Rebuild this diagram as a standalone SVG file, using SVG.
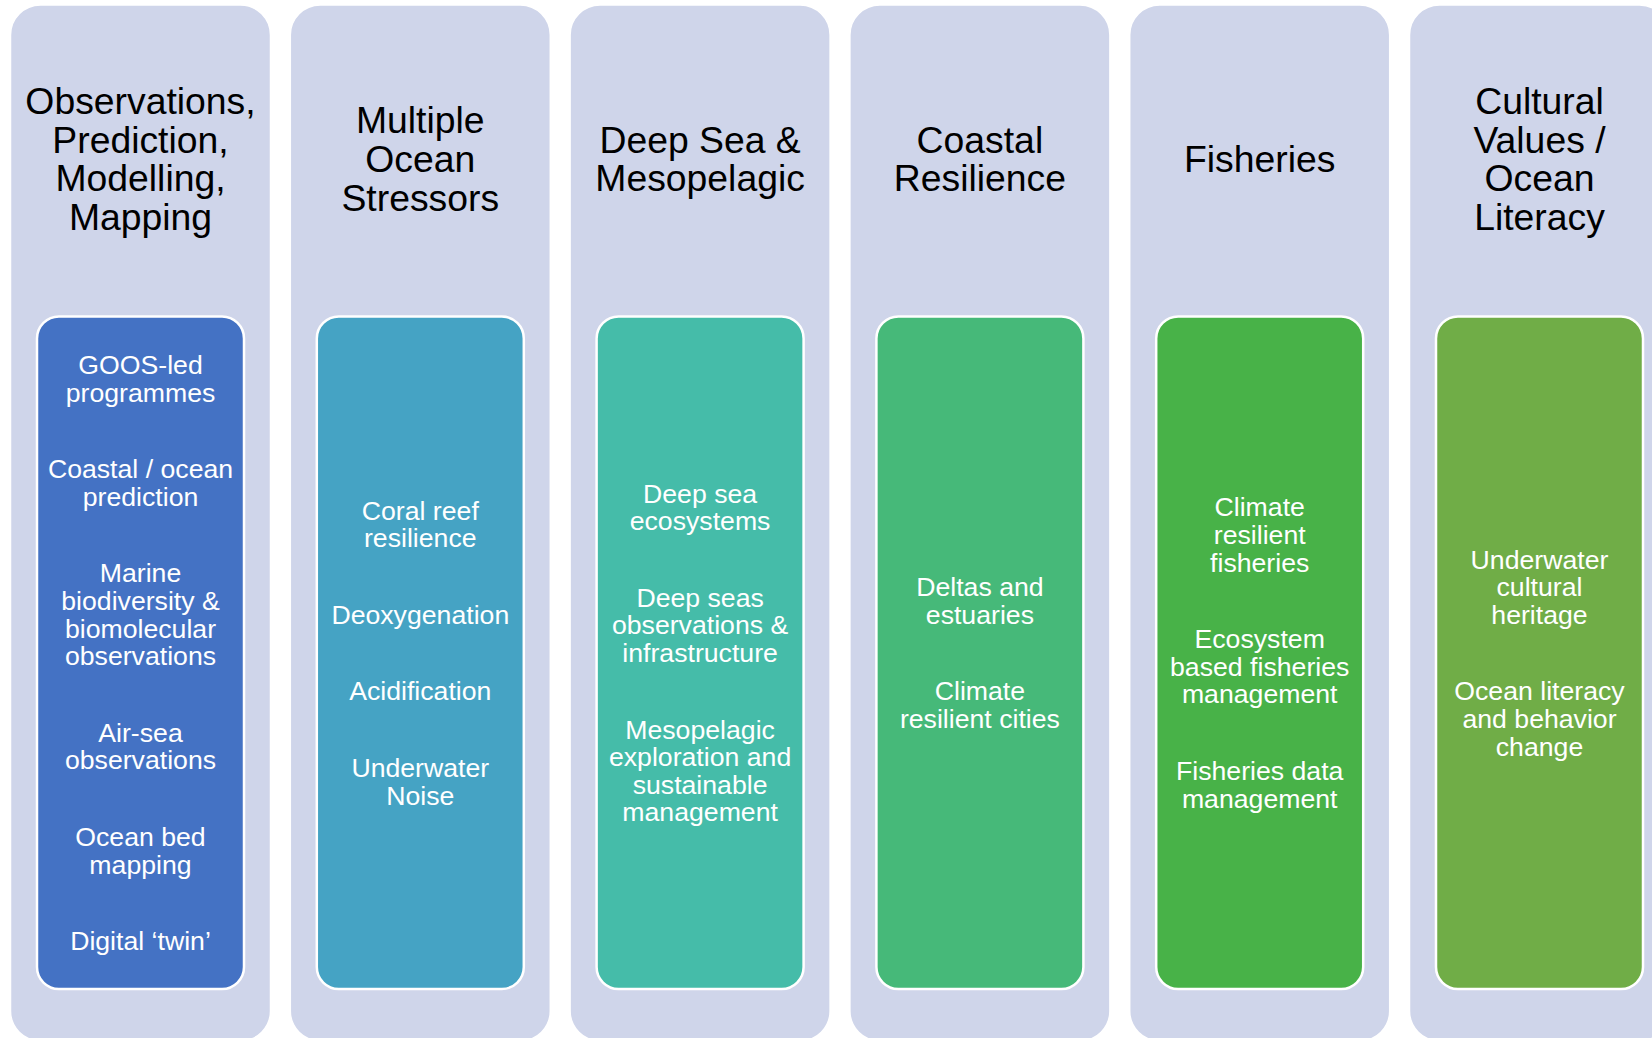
<svg xmlns="http://www.w3.org/2000/svg" width="1652" height="1038" viewBox="0 0 1652 1038">
<style>
.outer{fill:#CFD5EA;stroke:#FFFFFF;stroke-width:1.5}
.inner{stroke:#FFFFFF;stroke-width:2.5}
.title{font-family:"Liberation Sans",Arial,sans-serif;font-size:37.33px;fill:#000000;text-anchor:middle}
.item{font-family:"Liberation Sans",Arial,sans-serif;font-size:26.67px;fill:#FFFFFF;text-anchor:middle}
</style>
<rect x="0" y="0" width="1652" height="1038" fill="#FFFFFF"/>
<g id="connectors"></g>

<g id="col1">
<rect class="outer" x="10.5" y="5" width="260" height="1036" rx="30"/>
<text class="title" x="140.5"><tspan x="140.5" y="113.8">Observations,</tspan><tspan x="140.5" y="152.6">Prediction,</tspan><tspan x="140.5" y="191.4">Modelling,</tspan><tspan x="140.5" y="230.2">Mapping</tspan></text>
<rect class="inner" x="37" y="316.5" width="207" height="672.5" rx="22" fill="#4472C4"/>
<text class="item" x="140.5"><tspan x="140.5" y="373.9">GOOS-led</tspan><tspan x="140.5" y="401.5">programmes</tspan><tspan x="140.5" y="478.1">Coastal / ocean</tspan><tspan x="140.5" y="505.7">prediction</tspan><tspan x="140.5" y="582.3">Marine</tspan><tspan x="140.5" y="609.9">biodiversity &amp;</tspan><tspan x="140.5" y="637.5">biomolecular</tspan><tspan x="140.5" y="665.1">observations</tspan><tspan x="140.5" y="741.7">Air-sea</tspan><tspan x="140.5" y="769.3">observations</tspan><tspan x="140.5" y="845.9">Ocean bed</tspan><tspan x="140.5" y="873.5">mapping</tspan><tspan x="140.5" y="950.1">Digital ‘twin’</tspan></text>
</g>

<g id="col2">
<rect class="outer" x="290.3" y="5" width="260" height="1036" rx="30"/>
<text class="title" x="420.3"><tspan x="420.3" y="133.2">Multiple</tspan><tspan x="420.3" y="172">Ocean</tspan><tspan x="420.3" y="210.8">Stressors</tspan></text>
<rect class="inner" x="316.8" y="316.5" width="207" height="672.5" rx="22" fill="#45A3C4"/>
<text class="item" x="420.3"><tspan x="420.3" y="519.5">Coral reef</tspan><tspan x="420.3" y="547.1">resilience</tspan><tspan x="420.3" y="623.7">Deoxygenation</tspan><tspan x="420.3" y="700.3">Acidification</tspan><tspan x="420.3" y="776.9">Underwater</tspan><tspan x="420.3" y="804.5">Noise</tspan></text>
</g>

<g id="col3">
<rect class="outer" x="570.1" y="5" width="260" height="1036" rx="30"/>
<text class="title" x="700.1"><tspan x="700.1" y="152.6">Deep Sea &amp;</tspan><tspan x="700.1" y="191.4">Mesopelagic</tspan></text>
<rect class="inner" x="596.6" y="316.5" width="207" height="672.5" rx="22" fill="#45BCA9"/>
<text class="item" x="700.1"><tspan x="700.1" y="502.6">Deep sea</tspan><tspan x="700.1" y="530.2">ecosystems</tspan><tspan x="700.1" y="606.8">Deep seas</tspan><tspan x="700.1" y="634.4">observations &amp;</tspan><tspan x="700.1" y="662">infrastructure</tspan><tspan x="700.1" y="738.6">Mesopelagic</tspan><tspan x="700.1" y="766.2">exploration and</tspan><tspan x="700.1" y="793.8">sustainable</tspan><tspan x="700.1" y="821.4">management</tspan></text>
</g>

<g id="col4">
<rect class="outer" x="849.9" y="5" width="260" height="1036" rx="30"/>
<text class="title" x="979.9"><tspan x="979.9" y="152.6">Coastal</tspan><tspan x="979.9" y="191.4">Resilience</tspan></text>
<rect class="inner" x="876.4" y="316.5" width="207" height="672.5" rx="22" fill="#46B979"/>
<text class="item" x="979.9"><tspan x="979.9" y="596.1">Deltas and</tspan><tspan x="979.9" y="623.7">estuaries</tspan><tspan x="979.9" y="700.3">Climate</tspan><tspan x="979.9" y="727.9">resilient cities</tspan></text>
</g>

<g id="col5">
<rect class="outer" x="1129.7" y="5" width="260" height="1036" rx="30"/>
<text class="title" x="1259.7"><tspan x="1259.7" y="172">Fisheries</tspan></text>
<rect class="inner" x="1156.2" y="316.5" width="207" height="672.5" rx="22" fill="#48B248"/>
<text class="item" x="1259.7"><tspan x="1259.7" y="516.4">Climate</tspan><tspan x="1259.7" y="544">resilient</tspan><tspan x="1259.7" y="571.6">fisheries</tspan><tspan x="1259.7" y="648.2">Ecosystem</tspan><tspan x="1259.7" y="675.8">based fisheries</tspan><tspan x="1259.7" y="703.4">management</tspan><tspan x="1259.7" y="780">Fisheries data</tspan><tspan x="1259.7" y="807.6">management</tspan></text>
</g>

<g id="col6">
<rect class="outer" x="1409.5" y="5" width="260" height="1036" rx="30"/>
<text class="title" x="1539.5"><tspan x="1539.5" y="113.8">Cultural</tspan><tspan x="1539.5" y="152.6">Values /</tspan><tspan x="1539.5" y="191.4">Ocean</tspan><tspan x="1539.5" y="230.2">Literacy</tspan></text>
<rect class="inner" x="1436" y="316.5" width="207" height="672.5" rx="22" fill="#70AD47"/>
<text class="item" x="1539.5"><tspan x="1539.5" y="568.5">Underwater</tspan><tspan x="1539.5" y="596.1">cultural</tspan><tspan x="1539.5" y="623.7">heritage</tspan><tspan x="1539.5" y="700.3">Ocean literacy</tspan><tspan x="1539.5" y="727.9">and behavior</tspan><tspan x="1539.5" y="755.5">change</tspan></text>
</g>
</svg>
